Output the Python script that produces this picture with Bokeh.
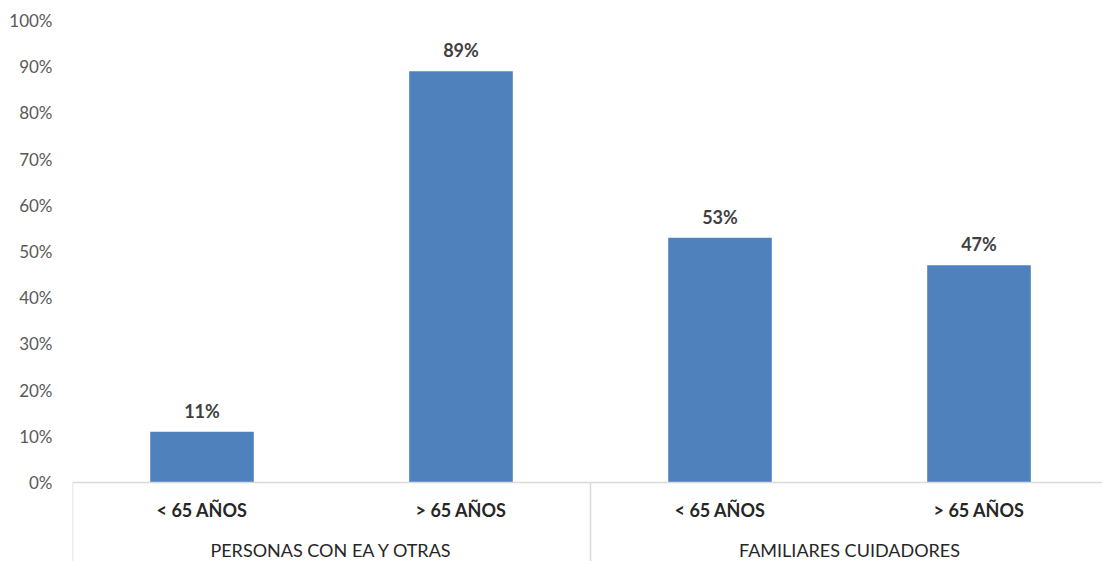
from bokeh.plotting import figure
from bokeh.models import ColumnDataSource, Range1d, FixedTicker, PrintfTickFormatter
from bokeh.core.properties import value
from bokeh.embed import file_html
from bokeh.resources import INLINE
import numpy as np

# ---- data ----
groups = ["PERSONAS CON EA Y OTRAS", "FAMILIARES CUIDADORES"]
subcats = ["< 65 AÑOS", "> 65 AÑOS", "< 65 AÑOS", "> 65 AÑOS"]
values = [11, 89, 53, 47]
value_labels = ["11%", "89%", "53%", "47%"]
y_ticks = [0, 10, 20, 30, 40, 50, 60, 70, 80, 90, 100]

FONT = "Lato"
BAR_COLOR = "#4F81BD"
GRID_GREY = "#D9D9D9"

n = len(subcats)
xc = np.arange(n) + 0.5
per_group = n // len(groups)
gx = np.arange(len(groups)) * per_group + per_group / 2.0
sep_x = np.arange(len(groups) + 1) * per_group

W, H = 1102, 561
left = 72
px_per_unit = 4.62
y_top = 100 + 20 / px_per_unit
y_bottom = -(H - 482) / px_per_unit

p = figure(width=W, height=H, output_backend="svg", toolbar_location=None,
           x_range=Range1d(0, (W - left) / 259.0), y_range=Range1d(y_bottom, y_top),
           min_border_left=left, min_border_right=0, min_border_top=0, min_border_bottom=0)
p.outline_line_color = None
p.xgrid.visible = False
p.ygrid.visible = False
p.xaxis.visible = False
p.background_fill_color = "white"
p.border_fill_color = "white"

ya = p.yaxis[0]
ya.ticker = FixedTicker(ticks=y_ticks)
ya.formatter = PrintfTickFormatter(format="%d%%")
ya.axis_line_color = None
ya.major_tick_line_color = None
ya.minor_tick_line_color = None
ya.major_label_standoff = 14
ya.major_label_text_font = FONT
ya.major_label_text_font_size = "17px"
ya.major_label_text_color = "#595959"

src = ColumnDataSource(dict(x=xc, top=values, lab=value_labels, cat=subcats))
p.vbar(x="x", top="top", bottom=0, width=0.4, source=src,
       fill_color=BAR_COLOR, line_color=None)

p.text(x="x", y="top", text="lab", source=src, text_align="center",
       text_baseline="middle", y_offset=-21, text_font=value(FONT),
       text_font_style="bold", text_font_size="18px", text_color="#404040")

# category axis drawn in-frame
p.segment(x0=[0], y0=[0], x1=[p.x_range.end], y1=[0], line_color=GRID_GREY, line_width=1.5)
p.segment(x0=sep_x, y0=[0] * len(sep_x), x1=sep_x, y1=[y_bottom] * len(sep_x),
          line_color=GRID_GREY, line_width=1.5)

p.text(x="x", y=-(509 - 482) / px_per_unit, text="cat", source=src, text_align="center",
       text_baseline="middle", text_font=value(FONT), text_font_style="bold",
       text_font_size="18px", text_color="#262626")
p.text(x=gx, y=[-(549 - 482) / px_per_unit] * len(groups), text=groups, text_align="center",
       text_baseline="middle", text_font=value(FONT), text_font_style="normal",
       text_font_size="18px", text_color="#262626")

open("out.html", "w").write(file_html(p, INLINE))
